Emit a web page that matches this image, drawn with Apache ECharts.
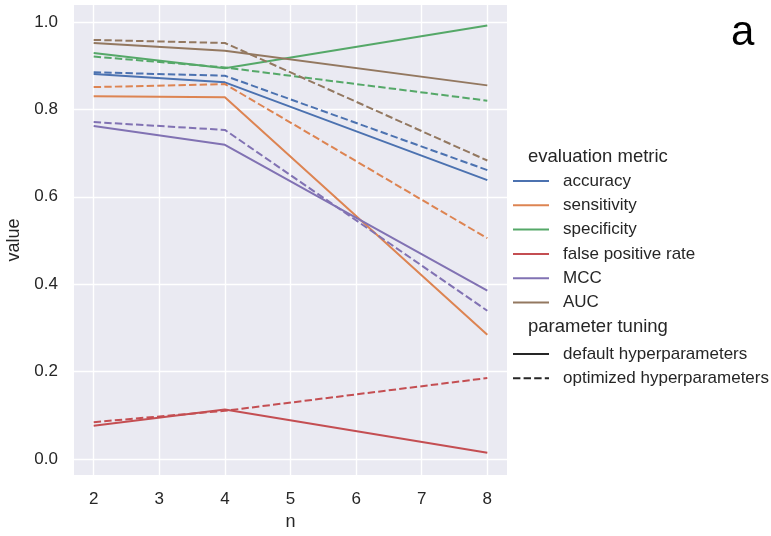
<!DOCTYPE html>
<html>
<head>
<meta charset="utf-8">
<script src="https://cdn.jsdelivr.net/npm/echarts@6/dist/echarts.min.js"></script>
<style>html,body{margin:0;padding:0;background:#fff;}#c{width:771px;height:536px;}</style>
</head>
<body>
<div id="c"></div>
<script>
var nValues = [2, 4, 8];
var metrics = ['accuracy', 'sensitivity', 'specificity', 'false positive rate', 'MCC', 'AUC'];
var colors = ['#4c72b0', '#dd8452', '#55a868', '#c44e52', '#8172b3', '#937860'];
var defaultVals = [
  [0.881, 0.862, 0.638],
  [0.830, 0.828, 0.284],
  [0.929, 0.894, 0.992],
  [0.076, 0.113, 0.014],
  [0.762, 0.719, 0.385],
  [0.952, 0.934, 0.855]
];
var optimizedVals = [
  [0.885, 0.877, 0.661],
  [0.851, 0.858, 0.505],
  [0.921, 0.896, 0.820],
  [0.084, 0.110, 0.185],
  [0.771, 0.753, 0.339],
  [0.959, 0.952, 0.683]
];
var yTicks = [0.0, 0.2, 0.4, 0.6, 0.8, 1.0];
var xTicks = [2, 3, 4, 5, 6, 7, 8];
var tuningNames = ['default hyperparameters', 'optimized hyperparameters'];

var FONT = '"Liberation Sans", Arial, sans-serif';
var TXT = '#262626';
var DASH = [7.4, 3.2];
var series = [];
metrics.forEach(function (m, i) {
  series.push({
    name: m, type: 'line', symbol: 'none', animation: false,
    data: nValues.map(function (x, j) { return [x, defaultVals[i][j]]; }),
    lineStyle: { color: colors[i], width: 2, type: 'solid' },
    itemStyle: { color: colors[i] }, z: 3
  });
  series.push({
    name: m + ' (optimized)', type: 'line', symbol: 'none', animation: false,
    data: nValues.map(function (x, j) { return [x, optimizedVals[i][j]]; }),
    lineStyle: { color: colors[i], width: 2, type: DASH },
    itemStyle: { color: colors[i] }, z: 3
  });
});
series.push({ name: tuningNames[0], type: 'line', symbol: 'none', data: [],
  lineStyle: { color: '#262626', width: 2, type: 'solid' }, itemStyle: { color: '#262626' } });
series.push({ name: tuningNames[1], type: 'line', symbol: 'none', data: [],
  lineStyle: { color: '#262626', width: 2, type: DASH }, itemStyle: { color: '#262626' } });

var legendCommon = {
  orient: 'vertical', left: 512, padding: 0,
  itemWidth: 36, itemHeight: 17, itemGap: 7.3, selectedMode: false,
  itemStyle: { opacity: 0 },
  textStyle: { color: TXT, fontSize: 17, fontFamily: FONT, padding: [0, 0, 0, 9] }
};

var chart = echarts.init(document.getElementById('c'), null, { renderer: 'canvas' });
chart.setOption({
  backgroundColor: '#ffffff',
  animation: false,
  textStyle: { fontFamily: FONT },
  grid: { left: 74, right: 264, top: 5, bottom: 61, show: true, backgroundColor: '#eaeaf2', borderWidth: 0,
    containLabel: false, outerBoundsMode: 'none' },
  xAxis: {
    type: 'value', min: 1.7, max: 8.3,
    name: 'n', nameLocation: 'middle', nameGap: 38,
    nameTextStyle: { color: TXT, fontSize: 18, fontFamily: FONT },
    axisLine: { show: false }, axisTick: { show: false, customValues: xTicks },
    axisLabel: { customValues: xTicks, color: TXT, fontSize: 17, margin: 16, fontFamily: FONT },
    splitLine: { show: true, lineStyle: { color: '#ffffff', width: 1.4 } }
  },
  yAxis: {
    type: 'value', min: -0.037, max: 1.039,
    name: 'value', nameLocation: 'middle', nameGap: 40,
    nameTextStyle: { color: TXT, fontSize: 18, fontFamily: FONT },
    axisLine: { show: false }, axisTick: { show: false, customValues: yTicks },
    axisLabel: { customValues: yTicks, color: TXT, fontSize: 17, margin: 16, fontFamily: FONT,
      formatter: function (v) { return v.toFixed(1); } },
    splitLine: { show: true, lineStyle: { color: '#ffffff', width: 1.4 } }
  },
  legend: [
    Object.assign({ data: metrics, top: 172.5 }, legendCommon),
    Object.assign({ data: tuningNames, top: 345.5 }, legendCommon)
  ],
  graphic: [
    { type: 'text', left: 528, top: 147.5, style: { text: 'evaluation metric', fill: TXT, font: '18.5px ' + FONT } },
    { type: 'text', left: 528, top: 317.5, style: { text: 'parameter tuning', fill: TXT, font: '18.5px ' + FONT } },
    { type: 'text', left: 731, top: 12, style: { text: 'a', fill: '#000', font: '42px ' + FONT } }
  ],
  series: series
});
</script>
</body>
</html>
